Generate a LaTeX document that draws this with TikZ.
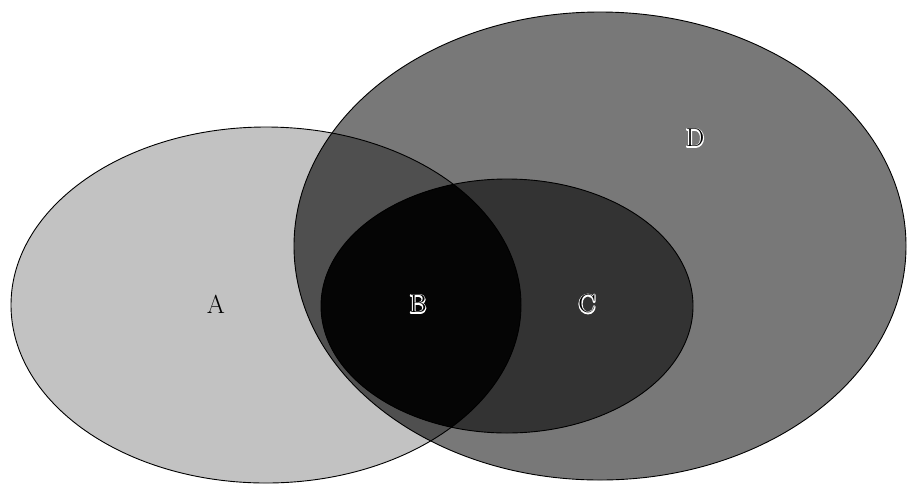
\documentclass[tikz,border=0pt]{standalone}
\newcommand{\haloletter}[1]{\special{pdf:literal direct 1 1 1 RG 2.2 w 1 j 2 Tr}#1\special{pdf:literal direct 0 Tr 0 0 0 RG}\llap{#1}}
\begin{document}
\begin{tikzpicture}[x=1pt,y=-1pt,
  outl/.style={draw=black,line width=0.9pt},
  lbl/.style={font=\fontsize{26}{30}\selectfont,inner sep=0pt,text=black}]
\definecolor{cA}{gray}{0.76}
\definecolor{cD}{gray}{0.47}
\definecolor{cAD}{gray}{0.31}
\definecolor{cCD}{gray}{0.20}
\definecolor{cB}{gray}{0.02}
\useasboundingbox (0,0) rectangle (909,483);
\begin{scope}
\clip (0,0) rectangle (909,483);
% A
\fill[cA] (266,305) ellipse [x radius=255, y radius=178];
% D
\fill[cD] (600,246) ellipse [x radius=306, y radius=234];
\begin{scope}
  \clip (266,305) ellipse [x radius=255, y radius=178];
  \fill[cAD] (600,246) ellipse [x radius=306, y radius=234];
\end{scope}
% C
\fill[cCD] (507,306) ellipse [x radius=186, y radius=127];
\begin{scope}
  \clip (266,305) ellipse [x radius=255, y radius=178];
  \fill[cB] (507,306) ellipse [x radius=186, y radius=127];
\end{scope}
\draw[outl] (266,305) ellipse [x radius=255, y radius=178];
\draw[outl] (600,246) ellipse [x radius=306, y radius=234];
\draw[outl] (507,306) ellipse [x radius=186, y radius=127];
\end{scope}
% labels
\node[lbl] (la) at (216,304) {A};
\node[lbl] (lb) at (418,304) {\haloletter{B}};
\node[lbl] (lc) at (587,304) {\haloletter{C}};
\node[lbl] (ld) at (695,138) {\haloletter{D}};
\end{tikzpicture}
\end{document}
